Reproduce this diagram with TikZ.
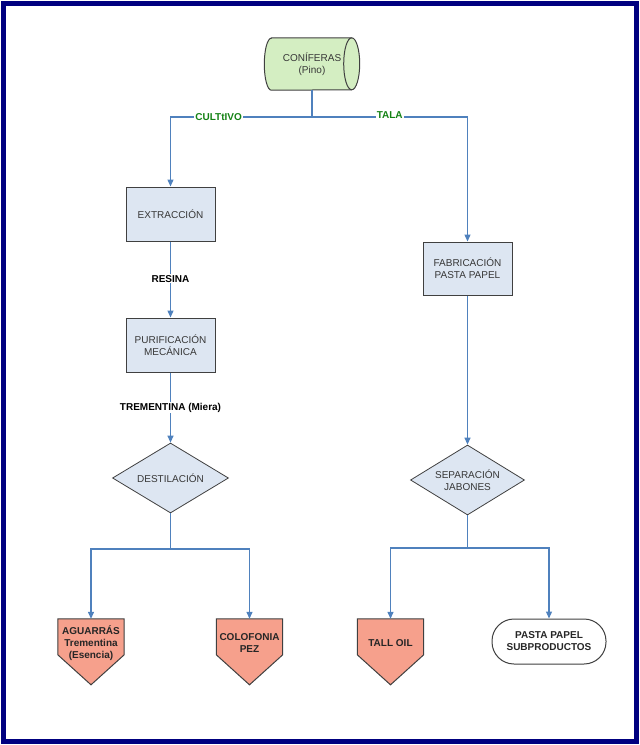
\documentclass[tikz,border=0pt]{standalone}
\usepackage{fontspec}
\setmainfont{Liberation Sans}
\usetikzlibrary{arrows.meta,backgrounds,calc,shapes.geometric}
\definecolor{lineblue}{RGB}{79,129,189}
\definecolor{boxfill}{RGB}{221,230,242}
\definecolor{pentfill}{RGB}{246,160,140}
\definecolor{cylfill}{RGB}{212,238,194}
\definecolor{navyframe}{RGB}{0,0,128}
\definecolor{txtgreen}{RGB}{20,130,20}
\definecolor{bordergray}{RGB}{64,64,64}
\definecolor{boxtext}{RGB}{55,55,55}
\begin{document}
\begin{tikzpicture}[x=1pt,y=-1pt,
  procbox/.style={rectangle, draw=bordergray, line width=1pt, fill=boxfill,
    minimum width=89pt, minimum height=54pt, inner sep=1pt, align=center,
    font=\fontsize{10}{12}\selectfont, text=boxtext},
  decbox/.style={diamond, aspect=1.65, draw=bordergray, line width=0.8pt, fill=boxfill,
    minimum width=116pt, minimum height=70pt, inner sep=0pt, align=center,
    font=\fontsize{10}{12}\selectfont, text=boxtext},
  pentlabel/.style={rectangle, minimum width=66pt, minimum height=48pt, inner sep=0pt,
    align=center, font=\bfseries\fontsize{10}{12}\selectfont, text=black!85},
  pentshape/.style={draw=bordergray, line width=1pt, fill=pentfill},
  termbox/.style={rectangle, rounded corners=22pt, draw=bordergray, line width=1pt, fill=white,
    minimum width=114pt, minimum height=45pt, inner sep=1pt, align=center,
    font=\bfseries\fontsize{10}{12}\selectfont, text=black!85},
  conn/.style={draw=lineblue, line width=1.3pt},
  arr/.style={conn, -{Triangle[length=7pt,width=6pt]}},
  lbl/.style={fill=white, inner sep=1pt, font=\bfseries\fontsize{10}{12}\selectfont},
  glbl/.style={lbl, text=txtgreen}
]
\useasboundingbox (0,0) rectangle (640,745);
\draw[navyframe, line width=5pt] (3.5,3.5) rectangle (636.5,741.5);

% nodes
\node[rectangle, minimum width=95pt, minimum height=52pt, inner sep=0pt, align=center,
  font=\fontsize{10}{12}\selectfont, text=boxtext] (con) at (312,64) {CONÍFERAS\\(Pino)};
\node[procbox] (ext) at (170.5,214) {EXTRACCIÓN};
\node[procbox] (pur) at (170.5,345) {PURIFICACIÓN\\MECÁNICA};
\node[decbox] (des) at (170.5,478) {DESTILACIÓN};
\node[procbox, minimum height=53pt] (fab) at (467.5,268.5) {FABRICACIÓN\\PASTA PAPEL};
\node[decbox, minimum width=114pt] (sep) at (467.5,480) {SEPARACIÓN\\JABONES};
\node[pentlabel] (ag) at (91,643) {AGUARRÁS\\Trementina\\(Esencia)};
\node[pentlabel] (col) at (249.5,643) {COLOFONIA\\PEZ};
\node[pentlabel] (tall) at (390.5,643) {TALL OIL};
\node[termbox] (pas) at (549,641.5) {PASTA PAPEL\\SUBPRODUCTOS};

% background shapes
\begin{scope}[on background layer]
  \path[draw=bordergray, line width=1pt, fill=cylfill]
    ($(con.north west)+(7,0)$) -- ($(con.north east)+(-8,0)$)
    arc[start angle=90, end angle=-90, x radius=8pt, y radius=26pt]
    -- ($(con.south west)+(7,0)$)
    arc[start angle=270, end angle=90, x radius=7pt, y radius=26pt] -- cycle;
  \draw[bordergray, line width=1pt] ($(con.north east)+(-8,0)$)
    arc[start angle=90, end angle=270, x radius=8pt, y radius=26pt];
  \foreach \n in {ag,col,tall}{
    \path[pentshape] (\n.north west) -- (\n.north east) -- ($(\n.north east)+(0,36)$)
      -- ($(\n.north)+(0,66)$) -- ($(\n.north west)+(0,36)$) -- cycle;
  }
\end{scope}

% connectors
\coordinate (j1) at (con.south |- 0,117);
\coordinate (j2) at (des.south |- 0,549);
\coordinate (j3) at (sep.south |- 0,548);
\draw[conn] (con.south) -- (j1);
\draw[arr] (j1) -| node[glbl, pos=0.33] {CULTtIVO} (ext.north);
\draw[arr] (j1) -| node[glbl, pos=0.25, yshift=2pt] {TALA} (fab.north);
\draw[arr] (ext.south) -- node[lbl, pos=0.49] {RESINA} (pur.north);
\draw[arr] (pur.south) -- node[lbl, pos=0.5] {TREMENTINA (Miera)} (des.north);
\draw[conn] (des.south) -- (j2);
\draw[arr] (j2) -| (ag.north);
\draw[arr] (j2) -| (col.north);
\draw[arr] (fab.south) -- (sep.north);
\draw[conn] (sep.south) -- (j3);
\draw[arr] (j3) -| (tall.north);
\draw[arr] (j3) -| (pas.north);
\end{tikzpicture}
\end{document}
